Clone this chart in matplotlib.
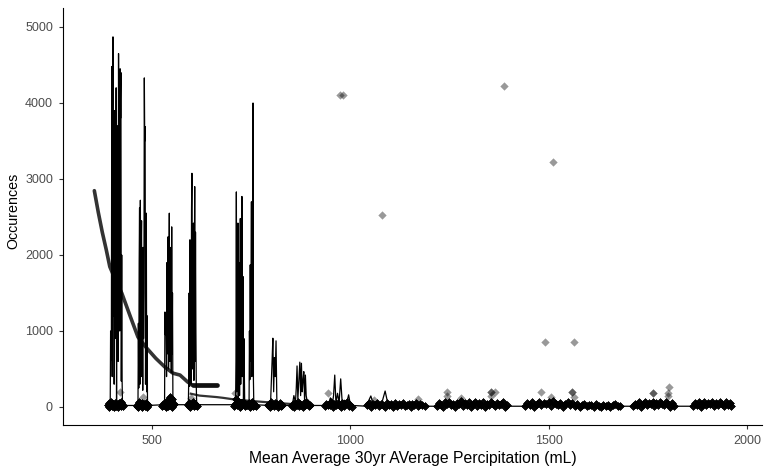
import numpy as np
from matplotlib import pyplot as plt

plt.rcParams['font.family'] = ['Liberation Sans', 'DejaVu Sans']

# thick fitted curve
curve_x = [355, 365, 375, 385, 394, 410, 424, 445, 465, 487, 510, 533, 553, 571, 590, 603]
curve_y = [2846, 2560, 2300, 2070, 1846, 1650, 1500, 1200, 920, 775, 640, 525, 445, 420, 330, 285]
band_x = [603, 664]
band_y = [283, 283]
tail_x = [598, 620, 664, 680, 713, 760, 810, 850]
tail_y = [175, 150, 130, 120, 95, 75, 55, 40]

# occurrence line, sorted by precipitation
line_x = [395, 396, 397, 398, 399, 400, 401, 402, 403, 404, 405, 406, 407, 408, 409, 410,
          411, 412, 413, 414, 415, 416, 417, 418, 419, 420, 421, 422, 423, 424, 425, 426,
          465, 466, 467, 468, 469, 470, 471, 472, 473, 474, 475, 476, 477, 478, 479, 480,
          481, 482, 483, 484, 485, 486, 487, 488, 489,
          532, 533, 534, 535, 536, 537, 538, 539, 540, 541, 542, 543, 544, 545, 546, 547,
          548, 549, 550, 551, 552, 553, 554,
          592, 593, 594, 595, 596, 597, 598, 599, 600, 601, 602, 603, 604, 605, 606, 607,
          608, 609, 610, 611, 612, 613,
          711, 712, 713, 714, 715, 716, 717, 718, 719, 720, 721, 722, 723, 724, 725, 726,
          727, 728, 729, 730, 731, 732, 733, 734, 738, 742, 745, 746, 747, 748, 749, 750,
          751, 752, 753, 754, 755, 756, 757,
          799, 801, 803, 805, 807, 809, 811, 813, 815, 817,
          854, 858, 862, 864, 866, 868, 870, 873, 875, 877, 879, 881, 883, 885, 887, 889,
          892, 895, 898,
          936, 940, 945, 950, 955, 958, 961, 964, 968, 972, 976, 980, 985, 990, 996, 1000, 1006,
          1042, 1048, 1052, 1058, 1065, 1072, 1080, 1088, 1095, 1105, 1115, 1125, 1140, 1155,
          1170, 1188,
          1220, 1260, 1300, 1350, 1394, 1440, 1490, 1530, 1580, 1679, 1712, 1760, 1817, 1863,
          1910, 1961]
line_y = [20, 1000, 620, 950, 4480, 400, 3800, 4870, 1200, 3600, 300, 3900, 900, 3300, 2500, 4200,
          0, 3100, 1500, 3700, 600, 4650, 2900, 4100, 1000, 4450, 3800, 4400, 340, 2000, 350, 20,
          20, 1100, 250, 1900, 2620, 300, 2720, 600, 2000, 2450, 400, 1800, 220, 2100, 900, 1500,
          4330, 3500, 3690, 300, 1600, 2550, 200, 1200, 20,
          30, 1250, 950, 1200, 1000, 400, 1900, 700, 2000, 2240, 500, 1700, 2550, 600, 2100, 900,
          1800, 450, 2370, 700, 1500, 130, 30,
          30, 400, 1500, 270, 2200, 800, 1900, 300, 2600, 3075, 500, 2000, 1100, 2420, 350, 1800,
          2900, 600, 2300, 1000, 270, 30,
          30, 600, 2830, 200, 1400, 900, 2420, 100, 1300, 1900, 150, 1100, 2480, 300, 1500, 800,
          2770, 400, 1600, 1715, 100, 900, 500, 60, 40, 60, 30, 1000, 360, 1870, 600, 1500,
          2700, 400, 1800, 900, 4000, 350, 30,
          20, 300, 600, 905, 200, 650, 400, 870, 100, 20,
          20, 150, 60, 250, 540, 100, 300, 590, 150, 575, 200, 350, 465, 80, 420, 150,
          60, 90, 20,
          20, 60, 30, 120, 40, 150, 420, 50, 180, 60, 370, 40, 90, 30, 160, 40, 20,
          10, 100, 145, 40, 70, 30, 60, 210, 40, 60, 30, 50, 20, 40,
          20, 10,
          10, 40, 20, 50, 10, 10, 40, 50, 20, 10, 10, 30, 10, 10,
          40, 10]

# points, one list per cluster
c1_x = [389, 391, 393, 395, 397, 399, 401, 403, 405, 407, 409, 411, 413, 415, 417, 419, 421, 423, 425, 427]
c1_y = [20, 50, 5, 35, 60, 10, 45, 25, 0, 55, 15, 40, 30, 5, 50, 20, 65, 10, 35, 15]
c2_x = [462, 464, 466, 468, 470, 472, 474, 476, 478, 480, 482, 484, 486, 488, 490]
c2_y = [15, 45, 5, 60, 25, 40, 0, 50, 20, 35, 10, 55, 30, 5, 20]
c3_x = [525, 527, 530, 533, 536, 539, 542, 545, 548, 551, 554, 557, 540, 546, 552]
c3_y = [10, 40, 25, 55, 5, 45, 100, 130, 80, 110, 20, 35, 15, 30, 5]
c4_x = [591, 594, 597, 600, 603, 606, 609, 612, 615]
c4_y = [20, 50, 5, 35, 60, 15, 45, 25, 10]
c5_x = [706, 709, 712, 715, 718, 721, 724, 727, 730, 733, 736, 741, 744, 747, 750, 753, 756, 759, 762]
c5_y = [15, 45, 100, 30, 60, 5, 50, 20, 70, 35, 10, 25, 55, 5, 40, 65, 15, 30, 10]
c6_x = [792, 795, 798, 801, 804, 807, 810, 813, 816, 819, 822, 825, 827]
c6_y = [20, 45, 5, 60, 30, 10, 50, 25, 40, 0, 55, 15, 30]
c7_x = [853, 856, 859, 862, 865, 868, 871, 874, 877, 880, 883, 886, 889, 892, 895, 898]
c7_y = [15, 40, 5, 55, 25, 60, 10, 45, 30, 0, 50, 20, 65, 35, 10, 25]
c8_x = [936, 940, 944, 948, 952, 956, 960, 964, 968, 972, 976, 980, 984, 988, 992, 996, 1000, 1004]
c8_y = [10, 45, 30, 25, 60, 5, 40, 20, 55, 30, 0, 50, 15, 35, 60, 10, 25, 5]
c9_x = [1042, 1047, 1052, 1057, 1062, 1067, 1072, 1077, 1082, 1087, 1092, 1097, 1102, 1107, 1112,
        1117, 1122, 1127, 1132, 1137, 1142, 1147, 1152, 1157, 1162, 1167, 1172, 1177, 1182, 1188]
c9_y = [20, 50, 5, 40, 25, 55, 10, 45, 30, 0, 50, 20, 35, 5, 55,
        15, 40, 25, 50, 10, 30, 45, 5, 35, 20, 55, 10, 40, 25, 15]
c10_x = [1220, 1225, 1230, 1235, 1240, 1245, 1250, 1255, 1260, 1265, 1270, 1275, 1280, 1285, 1290,
         1295, 1300, 1305, 1310, 1315, 1320, 1325, 1330, 1335, 1340, 1345, 1350, 1355, 1360, 1365,
         1370, 1375, 1380, 1385, 1390, 1394]
c10_y = [15, 50, 30, 5, 60, 40, 70, 20, 45, 0, 55, 35, 75, 10, 50,
         25, 65, 5, 40, 60, 15, 50, 30, 70, 0, 45, 25, 60, 35, 10,
         55, 20, 45, 65, 5, 20]
c11_x = [1440, 1446, 1452, 1458, 1464, 1470, 1476, 1482, 1488, 1494, 1500, 1506, 1512, 1518, 1524,
         1530, 1536, 1542, 1548, 1554, 1560, 1566, 1572, 1578, 1584, 1590, 1596, 1602, 1608, 1614,
         1620, 1626, 1632, 1638, 1644, 1650, 1656, 1662, 1668, 1674, 1679]
c11_y = [15, 50, 30, 65, 5, 45, 70, 20, 55, 35, 60, 10, 75, 40, 25,
         55, 5, 45, 65, 30, 50, 15, 35, 5, 25, 40, 10, 30, 20, 0,
         35, 15, 5, 25, 10, 30, 0, 20, 35, 10, 15]
c12_x = [1712, 1717, 1722, 1727, 1732, 1737, 1742, 1747, 1752, 1757, 1762, 1767, 1772, 1777, 1782,
         1787, 1792, 1797, 1802, 1807, 1812, 1817]
c12_y = [10, 45, 25, 60, 5, 40, 70, 20, 55, 35, 65, 10, 50, 30, 60, 45, 20, 70, 40, 5, 50, 15]
c13_x = [1863, 1868, 1873, 1878, 1883, 1888, 1893, 1898, 1903, 1908, 1913, 1918, 1923, 1928, 1933,
         1938, 1943, 1948, 1953, 1958, 1961]
c13_y = [15, 50, 30, 65, 5, 45, 60, 20, 55, 35, 70, 10, 50, 25, 65, 40, 15, 60, 30, 55, 10]
# how many records sit on each cluster point (they overlap in the plot)
cluster_reps = [8, 8, 8, 8, 8, 7, 7, 7, 7, 7, 7, 7, 7]

out_x = [975, 981, 1387, 1510, 1080, 1492, 1565, 419, 478, 598, 709, 944, 1059, 1171, 1245, 1245,
         1280, 1355, 1355, 1364, 1355, 1481, 1507, 1560, 1560, 1563, 1763, 1763, 1800, 1800, 1804]
out_y = [4100, 4100, 4230, 3220, 2530, 860, 860, 200, 130, 120, 180, 180, 92, 110, 202, 150,
         115, 202, 202, 202, 150, 202, 136, 202, 202, 136, 180, 180, 180, 150, 267]

clusters_x = [c1_x, c2_x, c3_x, c4_x, c5_x, c6_x, c7_x, c8_x, c9_x, c10_x, c11_x, c12_x, c13_x]
clusters_y = [c1_y, c2_y, c3_y, c4_y, c5_y, c6_y, c7_y, c8_y, c9_y, c10_y, c11_y, c12_y, c13_y]
pts_x = np.concatenate([np.repeat(cx, r) for cx, r in zip(clusters_x, cluster_reps)] + [out_x])
pts_y = np.concatenate([np.repeat(cy, r) for cy, r in zip(clusters_y, cluster_reps)] + [out_y])

fig = plt.figure(figsize=(7.7, 4.75), dpi=100)
ax = fig.add_axes([63 / 770, 1 - 425 / 475, 699 / 770, 417 / 475])

ax.plot(curve_x, curve_y, color='#333333', lw=2.6, solid_capstyle='round', zorder=1)
ax.plot(band_x, band_y, color='#111111', lw=3.4, solid_capstyle='round', zorder=1)
ax.plot(tail_x, tail_y, color='#333333', lw=1.6, zorder=1)
ax.plot(line_x, line_y, color='black', lw=0.9, zorder=2)
ax.scatter(pts_x, pts_y, marker='D', s=18, color='black', alpha=0.4, linewidths=0, zorder=3)

ax.set_xlim(276, 2038)
ax.set_ylim(-237, 5250)
ax.set_xticks([500, 1000, 1500, 2000])
ax.set_yticks([0, 1000, 2000, 3000, 4000, 5000])
ax.tick_params(length=2.9, width=0.8, color='#333333', labelcolor='#4D4D4D', labelsize=9, pad=4.3)
for s in ['top', 'right']:
    ax.spines[s].set_visible(False)
for s in ['left', 'bottom']:
    ax.spines[s].set_linewidth(0.8)

ax.set_xlabel("Mean Average 30yr AVerage Percipitation (mL)", fontsize=11.3)
ax.set_ylabel("Occurences", fontsize=10.3)
ax.xaxis.set_label_coords(0.5, -0.062)
ax.yaxis.set_label_coords(-0.0615, 0.514)

fig.savefig('out.png', dpi=100)
